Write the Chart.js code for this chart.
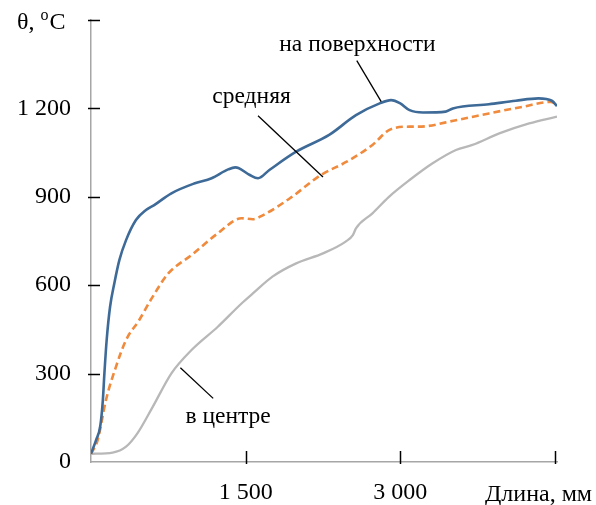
<!DOCTYPE html>
<html>
<head>
<meta charset="utf-8">
<script src="https://cdn.jsdelivr.net/npm/chart.js@4/dist/chart.umd.min.js"></script>
<style>
  html, body { margin: 0; padding: 0; background: #fff; overflow: hidden; }
  canvas { display: block; }
</style>
</head>
<body>
<canvas id="tempChart" width="596" height="505"></canvas>
<script>
// данные
const xTicks = [1500, 3000, 4500];
const yTicks = [0, 300, 600, 900, 1200, 1500];

const surfaceX = [0, 50, 90, 115, 130, 152, 185, 226, 275, 340, 436, 533, 613, 780, 1000, 1170, 1330, 1400, 1430, 1540, 1620, 1730, 1990, 2310, 2570, 2800, 2910, 3000, 3090, 3220, 3440, 3510, 3860, 4120, 4340, 4470, 4520];
const surfaceY = [28, 75, 122, 210, 301, 414, 527, 606, 685, 753, 821, 855, 872, 912, 945, 963, 993, 1000, 998, 974, 963, 991, 1053, 1110, 1177, 1217, 1228, 1217, 1194, 1186, 1189, 1200, 1214, 1226, 1234, 1226, 1208];

const meanX = [0, 65, 145, 242, 340, 468, 590, 750, 975, 1230, 1460, 1570, 1670, 1930, 2230, 2480, 2730, 2890, 3090, 3180, 3540, 3860, 4180, 4460, 4520];
const meanY = [28, 75, 210, 323, 414, 482, 556, 640, 702, 776, 827, 824, 838, 895, 974, 1019, 1076, 1126, 1138, 1138, 1160, 1183, 1205, 1222, 1214];

const centerX = [0, 210, 340, 450, 600, 780, 975, 1230, 1460, 1570, 1760, 1990, 2250, 2470, 2540, 2570, 2730, 2890, 3090, 3310, 3540, 3700, 3960, 4250, 4520];
const centerY = [28, 32, 52, 97, 188, 301, 380, 459, 538, 572, 629, 674, 708, 748, 770, 793, 844, 900, 957, 1013, 1059, 1076, 1115, 1149, 1172];

// подписи кривых: текст, точка текста и конец выноски (в единицах осей)
const labelTexts = ['на поверхности', 'средняя', 'в центре'];
const labelAt = [[2584, 1394], [1557, 1218], [1330, 133]];
const leaderFrom = [[2578, 1362], [1620, 1175], [867, 320]];
const leaderTo = [[2815, 1223], [2250, 967], [1185, 216]];

const FONT = '"Liberation Serif", "Times New Roman", serif';

function toPoints(xs, ys) {
    return xs.map((x, i) => ({ x: x, y: ys[i] }));
}

function fmt(v) {
    return String(v).replace(/\B(?=(\d{3})+(?!\d))/g, ' ');
}

// засечки, подписи осей и выноски
const extras = {
    id: 'extras',
    afterDraw(chart) {
        const c = chart.ctx;
        const xs = chart.scales.x;
        const ys = chart.scales.y;
        const x0 = xs.getPixelForValue(0);
        const y0 = ys.getPixelForValue(0);

        c.save();
        c.strokeStyle = '#000';
        c.lineWidth = 1.5;
        yTicks.forEach(v => {
            if (v === 0) return;
            const py = Math.round(ys.getPixelForValue(v)) + 0.5;
            c.beginPath();
            c.moveTo(x0 - 3, py);
            c.lineTo(x0 + 9, py);
            c.stroke();
        });
        xTicks.forEach(v => {
            const px = Math.round(xs.getPixelForValue(v)) + 0.5;
            c.beginPath();
            c.moveTo(px, y0 + 2);
            c.lineTo(px, y0 - 11);
            c.stroke();
        });

        // выноски
        c.lineWidth = 1.3;
        leaderFrom.forEach((p, i) => {
            c.beginPath();
            c.moveTo(xs.getPixelForValue(p[0]), ys.getPixelForValue(p[1]));
            c.lineTo(xs.getPixelForValue(leaderTo[i][0]), ys.getPixelForValue(leaderTo[i][1]));
            c.stroke();
        });

        c.fillStyle = '#000';
        c.font = '23.5px ' + FONT;
        c.textAlign = 'center';
        c.textBaseline = 'alphabetic';
        labelTexts.forEach((t, i) => {
            c.fillText(t, xs.getPixelForValue(labelAt[i][0]), ys.getPixelForValue(labelAt[i][1]));
        });

        // θ, °C
        c.font = '24px ' + FONT;
        c.textAlign = 'left';
        let tx = 17;
        const ty = 29;
        c.fillText('θ, ', tx, ty);
        tx += c.measureText('θ, ').width;
        c.font = '16px ' + FONT;
        c.fillText('o', tx, ty - 9);
        tx += c.measureText('o').width + 1;
        c.font = '24px ' + FONT;
        c.fillText('C', tx, ty);

        // Длина, мм
        c.textAlign = 'right';
        c.fillText('Длина, мм', 592, 501);
        c.restore();
    }
};

document.addEventListener('DOMContentLoaded', function() {
    const ctx = document.getElementById('tempChart');

    new Chart(ctx.getContext('2d'), {
        type: 'line',
        data: {
            datasets: [
                {
                    label: 'на поверхности',
                    data: toPoints(surfaceX, surfaceY),
                    borderColor: '#3E6A98',
                    borderWidth: 2.6
                },
                {
                    label: 'средняя',
                    data: toPoints(meanX, meanY),
                    borderColor: '#F08A3C',
                    borderWidth: 2.6,
                    borderDash: [7, 4]
                },
                {
                    label: 'в центре',
                    data: toPoints(centerX, centerY),
                    borderColor: '#B8B8B8',
                    borderWidth: 2.3
                }
            ]
        },
        options: {
            responsive: false,
            animation: false,
            layout: { padding: { top: 20, right: 39, left: 0, bottom: 0 } },
            elements: {
                point: { radius: 0 },
                line: { cubicInterpolationMode: 'monotone', fill: false }
            },
            plugins: {
                legend: { display: false },
                tooltip: { enabled: false }
            },
            scales: {
                x: {
                    type: 'linear',
                    min: 0,
                    max: 4520,
                    afterFit: s => {
                        s.height = 43;
                        s.paddingLeft = 0;
                        s.paddingRight = 0;
                    },
                    afterBuildTicks: s => { s.ticks = [0].concat(xTicks).map(v => ({ value: v })); },
                    grid: { display: false, drawTicks: false },
                    border: { display: true, color: '#A6A6A6', width: 1.5 },
                    ticks: {
                        padding: 16,
                        maxRotation: 0,
                        color: '#000',
                        font: { family: FONT, size: 24 },
                        callback: v => (v === 0 || v === 4500) ? '' : fmt(v)
                    }
                },
                y: {
                    min: 0,
                    max: 1500,
                    afterFit: s => {
                        s.width = 91;
                        s.paddingTop = 0;
                        s.paddingBottom = 0;
                    },
                    afterBuildTicks: s => { s.ticks = yTicks.map(v => ({ value: v })); },
                    grid: { display: false, drawTicks: false },
                    border: { display: true, color: '#A6A6A6', width: 1.5 },
                    ticks: {
                        padding: 20,
                        color: '#000',
                        font: { family: FONT, size: 24 },
                        callback: v => v === 1500 ? '' : fmt(v)
                    }
                }
            }
        },
        plugins: [extras]
    });
});
</script>
</body>
</html>
